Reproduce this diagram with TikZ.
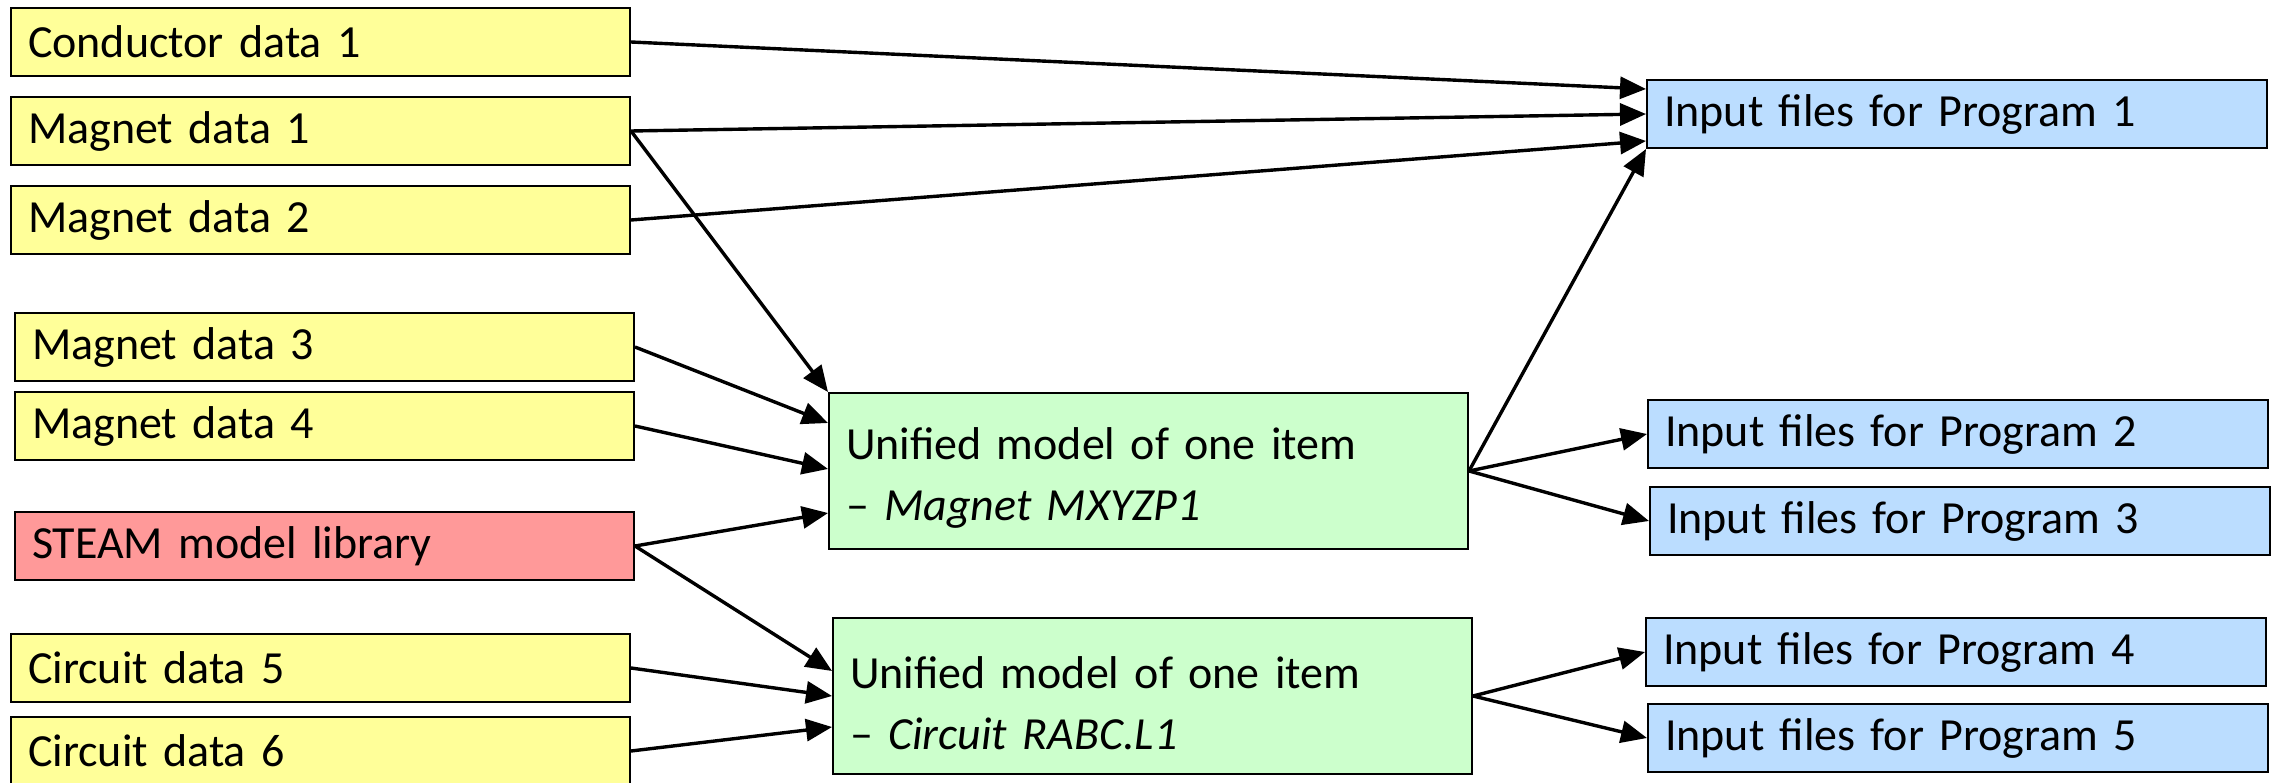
\documentclass[tikz,border=0pt]{standalone}
\usepackage{fontspec}
\setmainfont{Carlito}
\usetikzlibrary{arrows.meta,calc}
\definecolor{ylw}{HTML}{FFFF99}
\definecolor{rd}{HTML}{FF9999}
\definecolor{grn}{HTML}{CCFFCC}
\definecolor{blu}{HTML}{BBDDFF}
\tikzset{
  bx/.style={draw=black, line width=2pt, anchor=north west, inner xsep=17pt, inner ysep=0pt,
    align=left, font=\fontsize{46}{61}\selectfont},
  ybox/.style={bx, fill=ylw, text width=585pt, minimum height=68pt},
  rbox/.style={bx, fill=rd, text width=585pt, minimum height=68pt},
  gbox/.style={bx, fill=grn, text width=605pt, minimum height=156pt},
  bbox/.style={bx, fill=blu, text width=586pt, minimum height=68pt},
  arr/.style={line width=3.4pt, -{Triangle[length=26pt,width=22pt]}}
}
\begin{document}
\begin{tikzpicture}[x=1pt,y=-1pt]
\useasboundingbox[fill=white] (0,0) rectangle (2272,783);
% left inputs
\node[ybox] (c1) at (10,7) {Conductor data 1};
\node[ybox] (m1) at (10,96) {Magnet data 1};
\node[ybox] (m2) at (10,185) {Magnet data 2};
\node[ybox] (m3) at (14,312) {Magnet data 3};
\node[ybox] (m4) at (14,391) {Magnet data 4};
\node[rbox] (st) at (14,511) {STEAM model library};
\node[ybox] (d5) at (10,633) {Circuit data 5};
\node[ybox] (d6) at (10,716) {Circuit data 6};
% unified models
\node[gbox] (um) at (828,392) {\rule{0pt}{46pt}Unified model of one item\\– \textit{Magnet MXYZP1}};
\node[gbox] (uc) at (832,617) {\rule{0pt}{46pt}Unified model of one item\\– \textit{Circuit RABC.L1}};
% outputs
\node[bbox] (p1) at (1646,79) {Input files for Program 1};
\node[bbox] (p2) at (1647,399) {Input files for Program 2};
\node[bbox] (p3) at (1649,486) {Input files for Program 3};
\node[bbox] (p4) at (1645,617) {Input files for Program 4};
\node[bbox] (p5) at (1647,703) {Input files for Program 5};
% connectors
\draw[arr] (c1.east) -- ($(p1.west)+(0,-25)$);
\draw[arr] (m1.east) -- (p1.west);
\draw[arr] (m2.east) -- ($(p1.west)+(0,27)$);
\draw[arr] (m1.east) -- (um.north west);
\draw[arr] (m3.east) -- ($(um.north west)+(0,31)$);
\draw[arr] (m4.east) -- ($(um.west)+(0,-2)$);
\draw[arr] (st.east) -- ($(um.west)+(0,42)$);
\draw[arr] (st.east) -- ($(uc.west)+(0,-25)$);
\draw[arr] (d5.east) -- (uc.west);
\draw[arr] (d6.east) -- ($(uc.west)+(0,31)$);
\draw[arr] (um.east) -- (p1.south west);
\draw[arr] (um.east) -- (p2.west);
\draw[arr] (um.east) -- (p3.west);
\draw[arr] (uc.east) -- (p4.west);
\draw[arr] (uc.east) -- (p5.west);
\end{tikzpicture}
\end{document}
